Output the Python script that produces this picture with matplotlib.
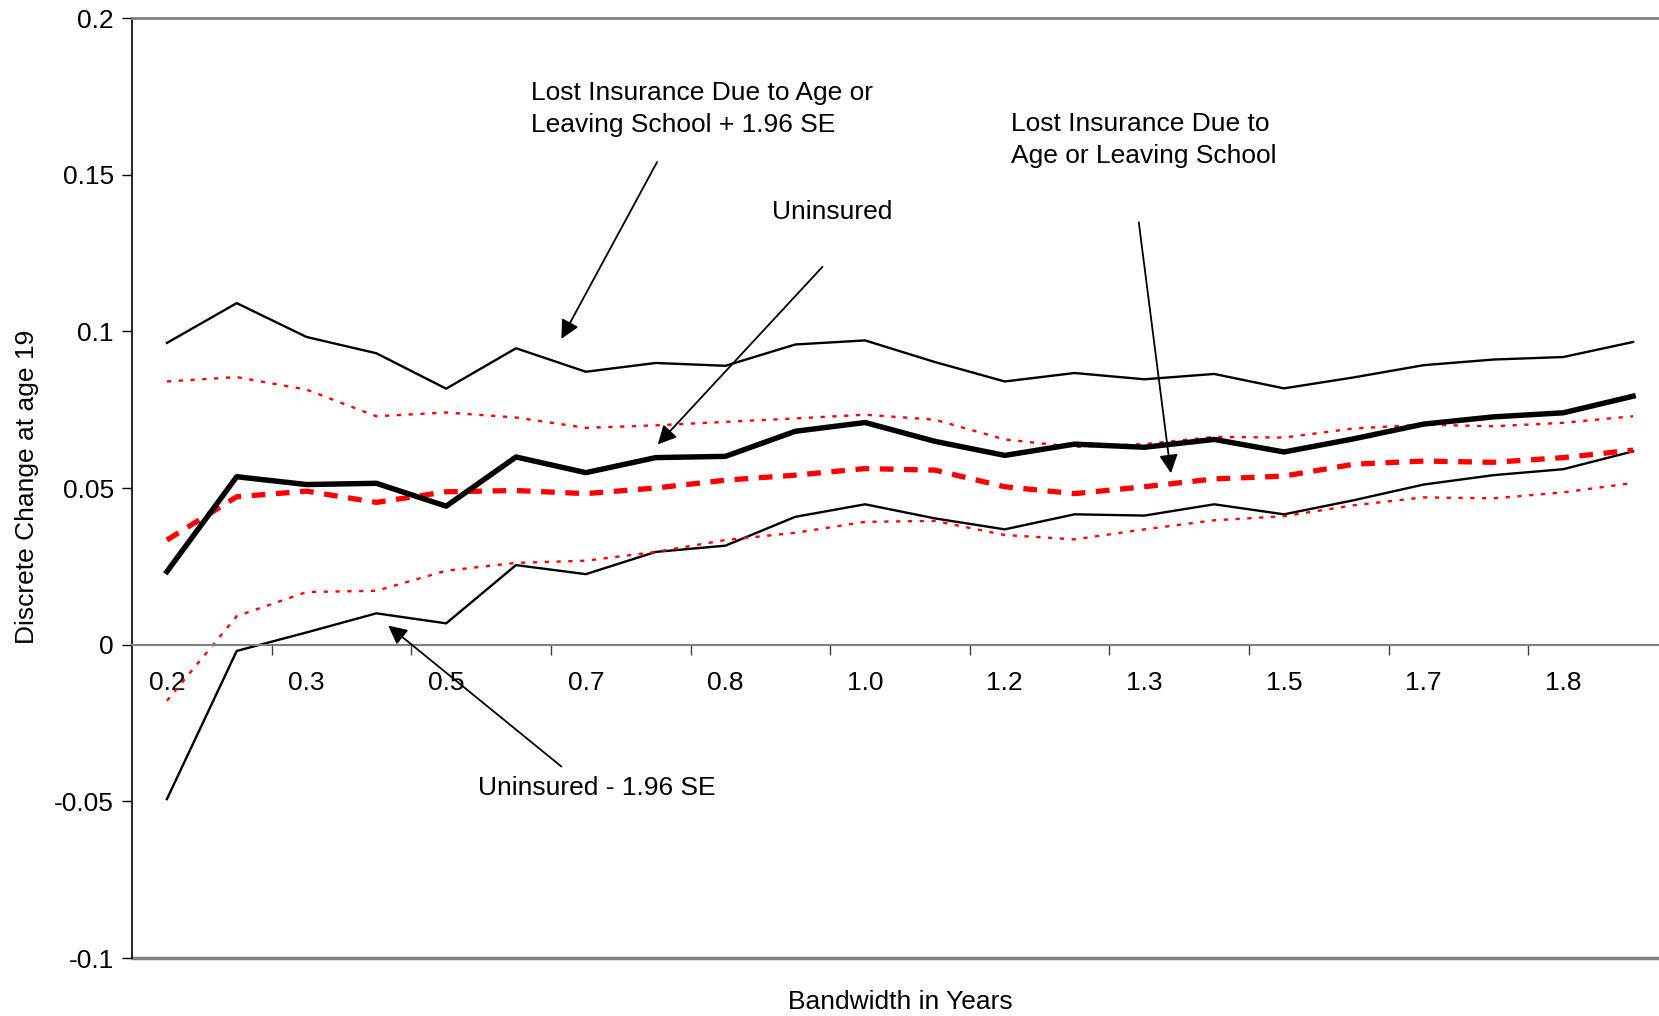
import numpy as np
import matplotlib
matplotlib.use("Agg")
import matplotlib.pyplot as plt

plt.rcParams['font.family'] = ['Liberation Sans', 'DejaVu Sans']
FS = 19

# bandwidth categories (months / 12, shown with one decimal)
bandwidth = ["0.2", "0.3", "0.3", "0.4", "0.5", "0.6", "0.7", "0.8", "0.8", "0.9", "1.0",
             "1.1", "1.2", "1.3", "1.3", "1.4", "1.5", "1.6", "1.7", "1.8", "1.8", "1.9"]

uninsured = [0.0233, 0.0536, 0.0511, 0.0515, 0.0442, 0.0599, 0.0549, 0.0597, 0.0601, 0.0681, 0.0709,
             0.0649, 0.0604, 0.0640, 0.0630, 0.0655, 0.0615, 0.0657, 0.0704, 0.0727, 0.0740, 0.0793]
uninsured_hi = [0.0963, 0.1090, 0.0982, 0.0930, 0.0817, 0.0946, 0.0871, 0.0899, 0.0890, 0.0958, 0.0971,
                0.0902, 0.0840, 0.0867, 0.0847, 0.0864, 0.0818, 0.0853, 0.0892, 0.0910, 0.0918, 0.0966]
uninsured_lo = [-0.0493, -0.0020, 0.0039, 0.0100, 0.0068, 0.0254, 0.0225, 0.0296, 0.0316, 0.0408, 0.0448,
                0.0403, 0.0368, 0.0416, 0.0412, 0.0448, 0.0416, 0.0461, 0.0511, 0.0541, 0.0560, 0.0617]
lost = [0.0334, 0.0472, 0.0490, 0.0454, 0.0488, 0.0492, 0.0482, 0.0500, 0.0525, 0.0541, 0.0562,
        0.0557, 0.0504, 0.0482, 0.0504, 0.0529, 0.0538, 0.0576, 0.0586, 0.0582, 0.0597, 0.0621]
lost_hi = [0.0840, 0.0854, 0.0814, 0.0729, 0.0741, 0.0725, 0.0692, 0.0700, 0.0711, 0.0722, 0.0734,
           0.0718, 0.0655, 0.0631, 0.0640, 0.0663, 0.0661, 0.0690, 0.0702, 0.0697, 0.0708, 0.0729]
lost_lo = [-0.0179, 0.0091, 0.0168, 0.0172, 0.0236, 0.0261, 0.0268, 0.0296, 0.0334, 0.0357, 0.0392,
           0.0395, 0.0350, 0.0336, 0.0368, 0.0397, 0.0410, 0.0445, 0.0470, 0.0467, 0.0486, 0.0516]

yticks = [-0.1, -0.05, 0, 0.05, 0.1, 0.15, 0.2]
ytick_labels = ["-0.1", "-0.05", "0", "0.05", "0.1", "0.15", "0.2"]

fig = plt.figure(figsize=(16.59, 10.16), dpi=100)
ax = fig.add_axes([132 / 1659, 1 - 958 / 1016, 1536 / 1659, 940 / 1016])
x = np.arange(len(bandwidth))

ax.plot(x, uninsured_hi, color='black', lw=1.7)
ax.plot(x, uninsured_lo, color='black', lw=1.7)
ax.plot(x, lost_hi, color='red', lw=1.7, dashes=(1.8, 3.2))
ax.plot(x, lost_lo, color='red', lw=1.7, dashes=(1.8, 3.2))
ax.plot(x, lost, color='red', lw=3.8, dashes=(2.6, 2.0))
ax.plot(x, uninsured, color='black', lw=3.9)

ax.set_xlim(-0.5, len(bandwidth) - 0.5)
ax.set_ylim(-0.1, 0.2)

# value axis
ax.set_yticks(yticks)
ax.set_yticklabels(ytick_labels)
ax.tick_params(axis='y', direction='out', length=7, width=1, pad=6, labelsize=FS, color='black')

# category axis sits on zero
ax.spines['bottom'].set_position(('data', 0))
ax.spines['bottom'].set_color('#808080')
ax.spines['bottom'].set_linewidth(1.5)
ax.set_xticks(np.arange(1.5, len(bandwidth) - 1, 2))
ax.set_xticklabels([])
ax.tick_params(axis='x', which='major', direction='out', length=7, width=1, color='#404040')
ax.set_xticks(x[::2], minor=True)
ax.set_xticklabels(bandwidth[::2], minor=True)
ax.tick_params(axis='x', which='minor', length=0, pad=19, labelsize=FS)

ax.spines['left'].set_color('black')
ax.spines['left'].set_linewidth(1.2)
ax.spines['top'].set_color('#808080')
ax.spines['top'].set_linewidth(2)
ax.spines['right'].set_visible(False)
ax.axhline(-0.1, color='#808080', lw=2.5, clip_on=False)

# annotations
arrow = dict(arrowstyle='-|>', color='black', lw=1.3, mutation_scale=28, shrinkA=0, shrinkB=0)
ax.text(5.21, 0.1798, "Lost Insurance Due to Age or\nLeaving School + 1.96 SE", fontsize=FS,
        ha='left', va='top', linespacing=1.43)
ax.annotate("", xy=(5.65, 0.0976), xytext=(7.02, 0.154), arrowprops=arrow)

ax.text(8.67, 0.1382, "Uninsured", fontsize=FS, ha='left', va='center')
ax.annotate("", xy=(7.03, 0.0639), xytext=(9.39, 0.1206), arrowprops=arrow)

ax.text(12.09, 0.1701, "Lost Insurance Due to\nAge or Leaving School", fontsize=FS,
        ha='left', va='top', linespacing=1.43)
ax.annotate("", xy=(14.38, 0.0547), xytext=(13.92, 0.1348), arrowprops=arrow)

ax.text(4.45, -0.0456, "Uninsured - 1.96 SE", fontsize=FS, ha='left', va='center')
ax.annotate("", xy=(3.17, 0.0061), xytext=(5.65, -0.0389), arrowprops=arrow)

fig.text(27 / 1659, 1 - 487 / 1016, "Discrete Change at age 19", rotation=90,
         fontsize=FS, ha='center', va='center')
fig.text(900 / 1659, 1 - 1002 / 1016, "Bandwidth in Years", fontsize=FS, ha='center', va='center')

fig.savefig("out.png", dpi=100)
